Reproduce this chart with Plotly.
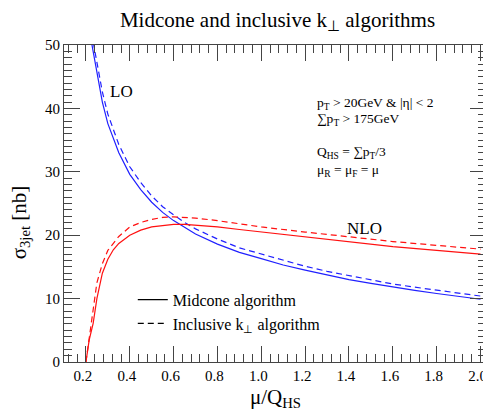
import plotly.graph_objects as go

# ---- data ----
lo_x = [0.225, 0.25, 0.275, 0.30, 0.35, 0.40, 0.45, 0.50, 0.55, 0.60, 0.65, 0.70,
        0.80, 0.90, 1.00, 1.10, 1.20, 1.30, 1.40, 1.50, 1.60, 1.70, 1.80, 1.90, 2.00]
lo_midcone = [50.5, 45.5, 41.0, 37.6, 33.0, 29.6, 27.2, 25.2, 23.6, 22.3, 21.2, 20.2,
              18.6, 17.3, 16.3, 15.3, 14.5, 13.7, 13.0, 12.4, 11.8, 11.3, 10.8, 10.3, 9.9]
lo_kt = [52.0, 47.2, 42.6, 39.1, 34.3, 30.8, 28.3, 26.2, 24.5, 23.2, 22.0, 21.0,
         19.4, 18.0, 17.0, 16.0, 15.1, 14.3, 13.6, 12.9, 12.3, 11.8, 11.3, 10.8, 10.4]

nlo_x_mid = [0.200, 0.215, 0.233, 0.25, 0.275, 0.30, 0.325, 0.35, 0.40, 0.45, 0.50, 0.55,
             0.60, 0.65, 0.70, 0.80, 0.90, 1.00, 1.20, 1.40, 1.60, 1.80, 2.00]
nlo_midcone = [0.0, 3.5, 6.1, 10.0, 14.0, 16.2, 17.7, 18.7, 20.0, 20.8, 21.3, 21.55,
               21.7, 21.7, 21.6, 21.3, 20.9, 20.5, 19.7, 18.9, 18.2, 17.6, 17.0]
nlo_x_kt = [0.200, 0.213, 0.226, 0.24, 0.25, 0.275, 0.30, 0.35, 0.40, 0.45, 0.50, 0.55,
            0.60, 0.65, 0.70, 0.80, 0.90, 1.00, 1.20, 1.40, 1.60, 1.80, 2.00]
nlo_kt = [0.0, 3.5, 6.1, 10.0, 12.5, 15.5, 17.6, 19.8, 21.3, 22.0, 22.5, 22.8,
          22.9, 22.8, 22.7, 22.3, 21.8, 21.3, 20.5, 19.7, 19.0, 18.4, 17.8]

x_tick_vals = [0.2, 0.4, 0.6, 0.8, 1.0, 1.2, 1.4, 1.6, 1.8, 2.0]
x_tick_text = ["0.2", "0.4", "0.6", "0.8", "1.0", "1.2", "1.4", "1.6", "1.8", "2.0"]
y_tick_vals = [0, 10, 20, 30, 40, 50]

SERIF = "Liberation Serif, Times New Roman, serif"
BLUE = "#2020ff"
RED = "#ff1010"

fig = go.Figure()
fig.add_trace(go.Scatter(x=lo_x, y=lo_midcone, mode="lines", showlegend=False,
                         line=dict(color=BLUE, width=1.2)))
fig.add_trace(go.Scatter(x=lo_x, y=lo_kt, mode="lines", showlegend=False,
                         line=dict(color=BLUE, width=1.2, dash="6px,4px")))
fig.add_trace(go.Scatter(x=nlo_x_mid, y=nlo_midcone, mode="lines", showlegend=False,
                         line=dict(color=RED, width=1.2)))
fig.add_trace(go.Scatter(x=nlo_x_kt, y=nlo_kt, mode="lines", showlegend=False,
                         line=dict(color=RED, width=1.2, dash="6px,4px")))
# legend entries
fig.add_trace(go.Scatter(x=[None], y=[None], mode="lines", name="Midcone algorithm",
                         line=dict(color="black", width=1.2)))
fig.add_trace(go.Scatter(x=[None], y=[None], mode="lines", name="Inclusive k<sub>⊥</sub> algorithm",
                         line=dict(color="black", width=1.2, dash="6px,4px")))

axis_common = dict(showline=True, linecolor="#444", linewidth=1, mirror="ticks",
                   ticks="inside", ticklen=16, tickcolor="#444", tickwidth=1,
                   showgrid=False, zeroline=False, automargin=False,
                   tickfont=dict(family=SERIF, size=15, color="black"))

fig.update_xaxes(range=[0.1, 2.025], tickvals=x_tick_vals, ticktext=x_tick_text,
                 ticklabelshift=-3,
                 minor=dict(dtick=0.04, tick0=0.2, ticks="inside", ticklen=8,
                            tickcolor="#444", showgrid=False),
                 **axis_common)
fig.update_yaxes(range=[0, 50], tickvals=y_tick_vals,
                 minor=dict(dtick=1, tick0=0, ticks="inside", ticklen=8,
                            tickcolor="#444", showgrid=False),
                 **axis_common)

ann_font = dict(family=SERIF, size=13.5, color="black")
annotations = [
    dict(text="LO", x=0.30, y=42.7, xanchor="left", yanchor="middle", font=dict(family=SERIF, size=17)),
    dict(text="NLO", x=1.38, y=21.1, xanchor="left", yanchor="middle", font=dict(family=SERIF, size=17)),
    dict(text="p<sub>T</sub> > 20GeV & |η| < 2", x=1.247, y=40.85, xanchor="left", yanchor="middle", font=ann_font),
    dict(text="∑p<sub>T</sub> > 175GeV", x=1.247, y=38.2, xanchor="left", yanchor="middle", font=ann_font),
    dict(text="Q<sub>HS</sub> = ∑p<sub>T</sub>/3", x=1.247, y=33.0, xanchor="left", yanchor="middle", font=ann_font),
    dict(text="μ<sub>R</sub> = μ<sub>F</sub> = μ", x=1.247, y=30.2, xanchor="left", yanchor="middle", font=ann_font),
]
for a in annotations:
    a.update(xref="x", yref="y", showarrow=False)
    a["font"].setdefault("color", "black")

# axis titles
annotations.append(dict(text="σ<sub>3jet</sub> [nb]", xref="paper", yref="paper", x=-0.104, y=0.441,
                        xanchor="center", yanchor="middle", textangle=-90, showarrow=False,
                        font=dict(family=SERIF, size=21, color="black")))
annotations.append(dict(text="μ/Q<sub>HS</sub>", xref="paper", yref="paper", x=0.502, y=-0.113,
                        xanchor="center", yanchor="middle", showarrow=False,
                        font=dict(family=SERIF, size=21, color="black")))

fig.update_layout(
    width=483, height=403,
    margin=dict(l=56, r=5, t=37, b=49),
    paper_bgcolor="white", plot_bgcolor="white",
    title=dict(text="Midcone and inclusive k<sub>⊥</sub> algorithms", x=0.558, xanchor="center",
               y=0.972, yanchor="middle", font=dict(family=SERIF, size=21, color="black")),
    annotations=annotations,
    legend=dict(x=0.163, y=0.25, xanchor="left", yanchor="top", bgcolor="rgba(0,0,0,0)",
                font=dict(family=SERIF, size=16, color="black"), tracegroupgap=0,
                itemwidth=30),
    showlegend=True,
)

fig.write_html("out.html")
